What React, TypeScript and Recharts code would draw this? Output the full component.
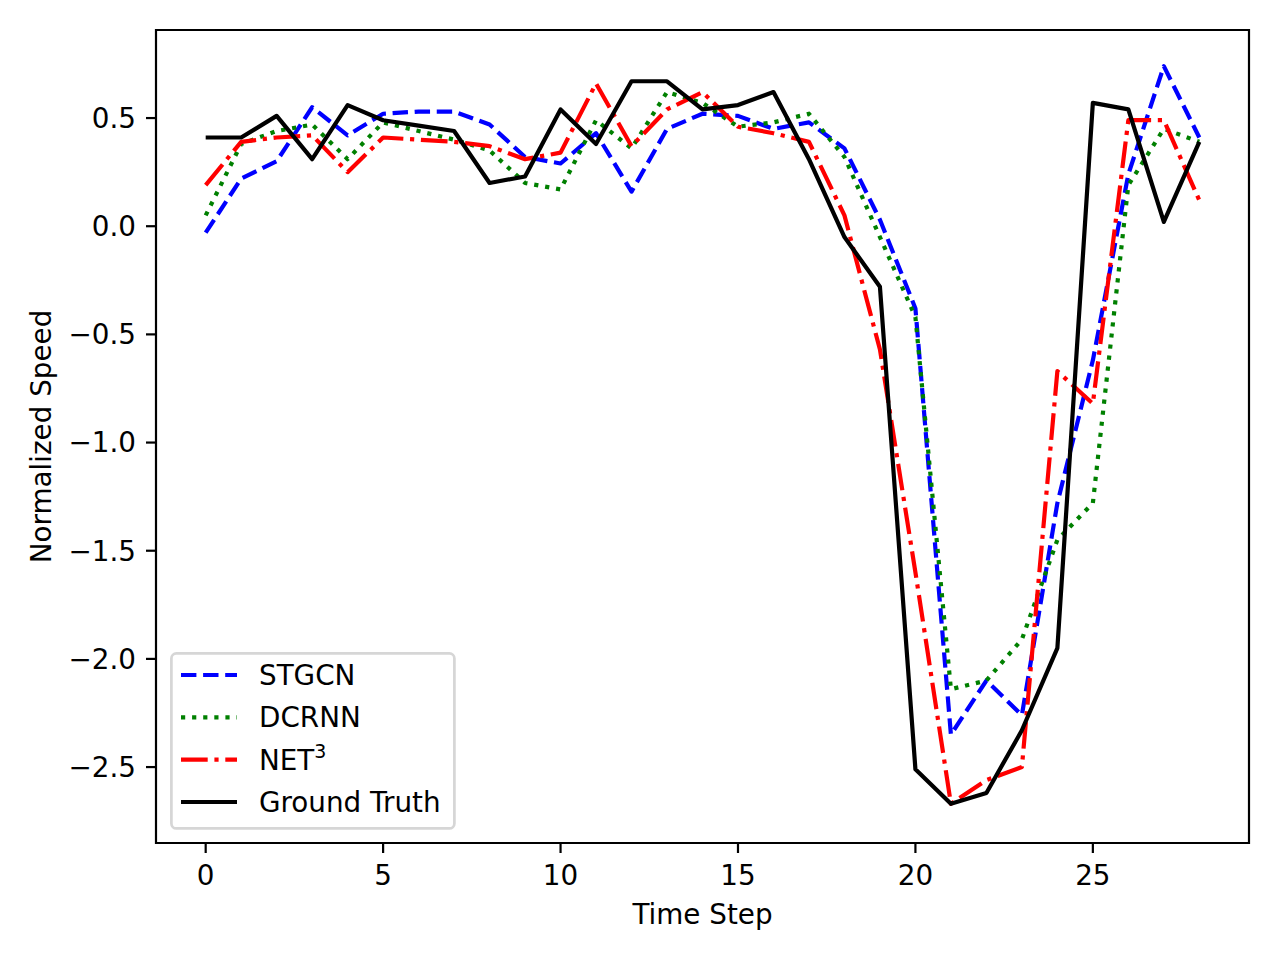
import React from "react";
import {
  LineChart,
  Line,
  XAxis,
  YAxis,
  ReferenceArea,
  Legend,
  Label,
} from "recharts";

const FONT = "DejaVu Sans, sans-serif";
const FS = 27.8;

const steps = [
  0, 1, 2, 3, 4, 5, 6, 7, 8, 9, 10, 11, 12, 13, 14, 15, 16, 17, 18, 19, 20,
  21, 22, 23, 24, 25, 26, 27, 28,
];

const stgcn = [
  -0.03, 0.22, 0.3, 0.55, 0.42, 0.52, 0.53, 0.53, 0.47, 0.32, 0.29, 0.43, 0.16,
  0.45, 0.52, 0.51, 0.45, 0.48, 0.36, 0.03, -0.38, -2.35, -2.1, -2.26, -1.28,
  -0.62, 0.24, 0.74, 0.41,
];

const dcrnn = [
  0.05, 0.38, 0.44, 0.47, 0.31, 0.48, 0.44, 0.4, 0.35, 0.2, 0.17, 0.49, 0.36,
  0.62, 0.57, 0.46, 0.48, 0.52, 0.32, -0.05, -0.42, -2.14, -2.1, -1.91, -1.45,
  -1.28, 0.19, 0.45, 0.39,
];

const net3 = [
  0.19, 0.39, 0.41, 0.42, 0.25, 0.41, 0.4, 0.39, 0.37, 0.31, 0.34, 0.66, 0.37,
  0.54, 0.62, 0.46, 0.43, 0.39, 0.05, -0.57, -1.6, -2.67, -2.56, -2.5, -0.67,
  -0.82, 0.49, 0.49, 0.12,
];

const groundTruth = [
  0.41, 0.41, 0.51, 0.31, 0.56, 0.49, 0.465, 0.44, 0.2, 0.23, 0.54, 0.38, 0.67,
  0.67, 0.54, 0.56, 0.62, 0.31, -0.05, -0.28, -2.51, -2.67, -2.62, -2.33,
  -1.95, 0.57, 0.54, 0.02, 0.39,
];

const xTicks = [0, 5, 10, 15, 20, 25];
const yTicks = [-2.5, -2.0, -1.5, -1.0, -0.5, 0.0, 0.5];
const xDomain: [number, number] = [-1.4, 29.4];
const yDomain: [number, number] = [-2.851, 0.907];

const series = [
  { key: "stgcn", name: "STGCN", color: "#0000ff", dash: "15.4 6.7" },
  { key: "dcrnn", name: "DCRNN", color: "#008000", dash: "4.2 6.9" },
  { key: "net3", name: "NET3", color: "#ff0000", dash: "26.7 6.7 4.2 6.7" },
  { key: "gt", name: "Ground Truth", color: "#000000", dash: undefined },
];

const rows = steps.map((s, i) => ({
  step: s,
  stgcn: stgcn[i],
  dcrnn: dcrnn[i],
  net3: net3[i],
  gt: groundTruth[i],
}));

const fmtY = (v: number) => v.toFixed(1).replace("-", "\u2212");

const tickStyle = { fill: "#000", fontSize: FS, fontFamily: FONT };

function LegendBox() {
  const rowY = [23, 65.3, 107.6, 150];
  return (
    <svg width={286} height={178} style={{ display: "block" }}>
      <rect
        x={1.4}
        y={1.4}
        width={283}
        height={175}
        rx={5}
        fill="#fff"
        fillOpacity={0.8}
        stroke="#d6d6d6"
        strokeWidth={2.7}
      />
      {series.map((s, i) => (
        <g key={s.key}>
          <line
            x1={11}
            x2={67}
            y1={rowY[i]}
            y2={rowY[i]}
            stroke={s.color}
            strokeWidth={4.2}
            strokeDasharray={s.dash}
          />
          <text
            x={89}
            y={rowY[i] + 10}
            fontSize={FS}
            fontFamily={FONT}
            fill="#000"
          >
            {s.key === "net3" ? (
              <>
                NET
                <tspan dy={-12} fontSize={19}>
                  3
                </tspan>
              </>
            ) : (
              s.name
            )}
          </text>
        </g>
      ))}
    </svg>
  );
}

function YLabel(props: any) {
  const vb = props.viewBox || { x: 76, y: 30, width: 80, height: 813 };
  const x = vb.x - 25;
  const y = vb.y + vb.height / 2;
  return (
    <text
      x={x}
      y={y}
      transform={`rotate(-90 ${x} ${y})`}
      textAnchor="middle"
      fontSize={FS}
      fontFamily={FONT}
      fill="#000"
    >
      Normalized Speed
    </text>
  );
}

export default function App() {
  return (
    <div
      style={{
        position: "absolute",
        left: 0,
        top: 0,
        width: 1280,
        height: 960,
        background: "#fff",
      }}
    >
      <LineChart
        width={1280}
        height={960}
        data={rows}
        margin={{ top: 30, right: 31, bottom: 57, left: 76 }}
      >
        <XAxis
          dataKey="step"
          type="number"
          domain={xDomain}
          ticks={xTicks}
          allowDataOverflow
          height={60}
          axisLine={false}
          tickSize={10}
          tickMargin={12}
          tickLine={{ stroke: "#000", strokeWidth: 2.2 }}
          tick={tickStyle}
          label={{
            value: "Time Step",
            position: "bottom",
            offset: 1,
            fill: "#000",
            fontSize: FS,
            fontFamily: FONT,
          }}
        />
        <YAxis
          type="number"
          domain={yDomain}
          ticks={yTicks}
          allowDataOverflow
          width={80}
          axisLine={false}
          tickSize={10}
          tickMargin={10}
          tickLine={{ stroke: "#000", strokeWidth: 2.2 }}
          tick={tickStyle}
          tickFormatter={fmtY}
        >
          <Label content={YLabel} />
        </YAxis>
        <ReferenceArea
          x1={xDomain[0]}
          x2={xDomain[1]}
          y1={yDomain[0]}
          y2={yDomain[1]}
          fill="none"
          stroke="#000"
          strokeWidth={2.2}
          ifOverflow="visible"
        />
        {series.map((s) => (
          <Line
            key={s.key}
            dataKey={s.key}
            name={s.name}
            type="linear"
            stroke={s.color}
            strokeWidth={4.2}
            strokeDasharray={s.dash}
            strokeLinejoin="round"
            dot={false}
            activeDot={false}
            isAnimationActive={false}
          />
        ))}
        <Legend
          layout="vertical"
          verticalAlign="middle"
          align="center"
          wrapperStyle={{ left: 170, top: 652, width: 286, height: 178 }}
          content={() => <LegendBox />}
        />
      </LineChart>
    </div>
  );
}
